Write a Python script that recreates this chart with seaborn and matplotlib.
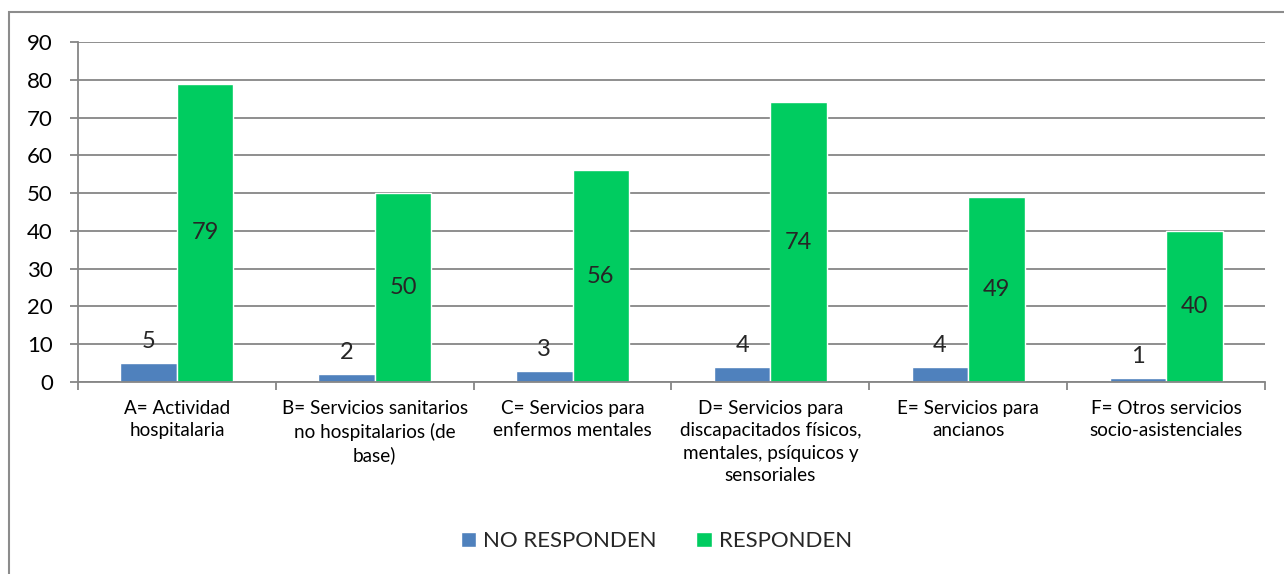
import seaborn as sns
import matplotlib.pyplot as plt
import pandas as pd
from matplotlib.patches import Rectangle

categories = [
    'A= Actividad\nhospitalaria',
    'B= Servicios sanitarios\nno hospitalarios (de\nbase)',
    'C= Servicios para\nenfermos mentales',
    'D= Servicios para\ndiscapacitados físicos,\nmentales, psíquicos y\nsensoriales',
    'E= Servicios para\nancianos',
    'F= Otros servicios\nsocio-asistenciales',
]
no_responden = [5, 2, 3, 4, 4, 1]
responden = [79, 50, 56, 74, 49, 40]
series = ['NO RESPONDEN', 'RESPONDEN']
colors = ['#4F81BD', '#00CC60']

df = pd.DataFrame({
    'cat': categories * 2,
    'serie': [series[0]] * 6 + [series[1]] * 6,
    'valor': no_responden + responden,
})

sns.set_theme(style='white')
plt.rcParams['font.family'] = ['Lato', 'DejaVu Sans']

fig = plt.figure(figsize=(12.84, 5.74), dpi=100)
ax = fig.add_axes([78 / 1284, 1 - 382 / 574, (1265 - 78) / 1284, (382 - 42) / 574])

sns.barplot(data=df, x='cat', y='valor', hue='serie', palette=colors,
            width=0.572, saturation=1, ax=ax, legend=True)

ax.set_ylim(0, 90)
ax.set_xlim(-0.5, 5.5)
ax.set_yticks(range(0, 91, 10))
ax.yaxis.grid(True, color='#868686', lw=1.3)
ax.set_axisbelow(True)
ax.set_xlabel('')
ax.set_ylabel('')

for s in ['top', 'right']:
    ax.spines[s].set_visible(False)
for s in ['left', 'bottom']:
    ax.spines[s].set_color('#868686')
    ax.spines[s].set_linewidth(1.3)

ax.tick_params(axis='y', left=True, length=6, width=1.3, color='#868686',
               pad=12, labelsize=16, labelcolor='black')
ax.tick_params(axis='x', which='major', bottom=False, length=0, pad=13,
               labelsize=13.6, labelcolor='black')
ax.set_xticks([i - 0.5 for i in range(7)], minor=True)
ax.tick_params(axis='x', which='minor', bottom=True, length=6, width=1.3,
               color='#868686', direction='out')
for lab in ax.get_xticklabels():
    lab.set_horizontalalignment('center')
    lab.set_multialignment('center')
    lab.set_linespacing(1.38)

ax.bar_label(ax.containers[0], padding=8, fontsize=17)
ax.bar_label(ax.containers[1], label_type='center', fontsize=17)

handles, labels = ax.get_legend_handles_labels()
ax.legend(handles, labels, loc='center', bbox_to_anchor=(0.511, 0.057),
          bbox_transform=fig.transFigure, ncol=2, frameon=False,
          fontsize=16, handlelength=0.7, handleheight=0.7,
          handletextpad=0.3, columnspacing=1.8)

fig.patches.append(Rectangle((9 / 1284, -0.02), 1.0, 1 - 12 / 574 + 0.02,
                             transform=fig.transFigure, fill=False,
                             ec='#8c8c8c', lw=1.5))

fig.savefig('out.png', dpi=100, facecolor='white')
